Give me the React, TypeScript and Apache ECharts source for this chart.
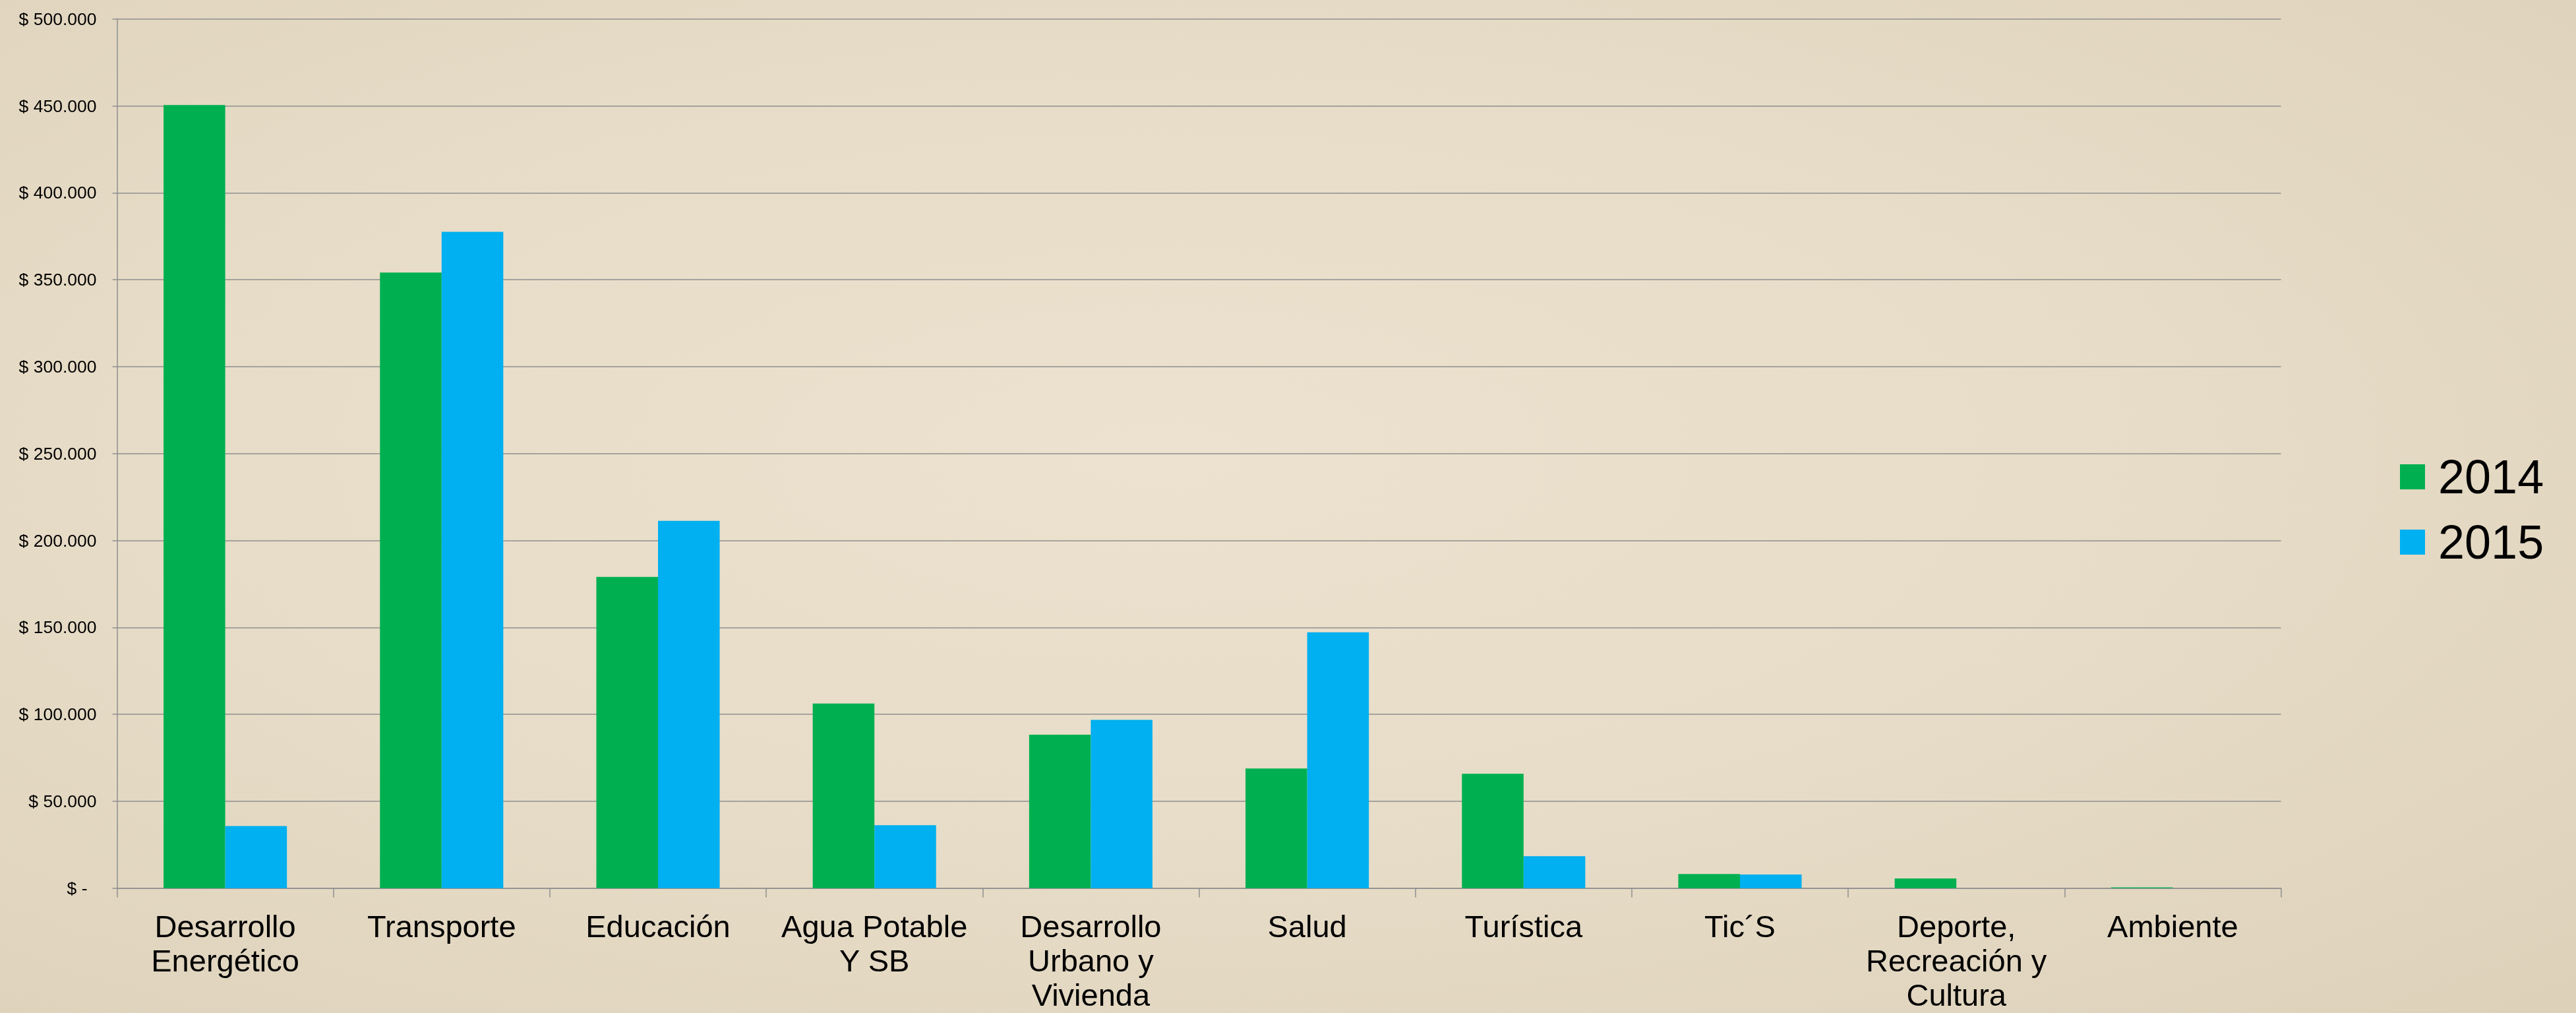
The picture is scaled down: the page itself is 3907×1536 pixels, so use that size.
import React, { useEffect, useRef } from "react";
import * as echarts from "echarts";

const categories = [
  "Desarrollo\nEnergético",
  "Transporte",
  "Educación",
  "Agua Potable\nY SB",
  "Desarrollo\nUrbano y\nVivienda",
  "Salud",
  "Turística",
  "Tic´S",
  "Deporte,\nRecreación y\nCultura",
  "Ambiente",
];

const values2014 = [450500, 354100, 179000, 106200, 88300, 68800, 65800, 8100, 5600, 500];
const values2015 = [35700, 377500, 211300, 36200, 96800, 147200, 18400, 7900, 0, 0];

const seriesNames = ["2014", "2015"];
const yMax = 500000;
const yStep = 50000;

function formatMoney(v: number): string {
  if (v === 0) return "{z|$ -}";
  const s = Math.round(v).toString().replace(/\B(?=(\d{3})+(?!\d))/g, ".");
  return "$ " + s;
}

export default function App() {
  const ref = useRef<HTMLDivElement>(null);

  useEffect(() => {
    if (!ref.current) return;
    const chart = echarts.init(ref.current, undefined, { renderer: "svg" });
    const grayLine = "#8F8F8F";
    const font = "'Liberation Sans', Arial, sans-serif";
    chart.setOption({
      animation: false,
      backgroundColor: "transparent",
      textStyle: { fontFamily: font },
      grid: {
        left: 177.5,
        right: 447.5,
        top: 28.7,
        bottom: 189.3,
        containLabel: false,
        outerBoundsMode: "none",
      },
      legend: {
        orient: "vertical",
        left: 3635,
        top: 682,
        itemWidth: 38,
        itemHeight: 38,
        itemGap: 27,
        icon: "rect",
        data: seriesNames,
        textStyle: { fontSize: 72, color: "#000", fontFamily: font, padding: [0, 0, 0, 15] },
      },
      xAxis: {
        type: "category",
        data: categories,
        axisLine: { show: true, lineStyle: { color: grayLine, width: 1.5 } },
        axisTick: { show: true, length: 14, lineStyle: { color: grayLine, width: 1.5 } },
        axisLabel: {
          interval: 0,
          fontSize: 47,
          lineHeight: 52,
          color: "#000",
          margin: 32,
          fontFamily: font,
        },
        splitLine: { show: false },
      },
      yAxis: {
        type: "value",
        min: 0,
        max: yMax,
        interval: yStep,
        axisLine: { show: true, lineStyle: { color: grayLine, width: 1.5 } },
        axisTick: { show: true, length: 7, lineStyle: { color: grayLine, width: 1.5 } },
        axisLabel: {
          fontSize: 26.5,
          color: "#000",
          margin: 31,
          fontFamily: font,
          formatter: (v: number) => formatMoney(v),
          rich: { z: { fontSize: 26.5, color: "#000", padding: [0, 14, 0, 0], fontFamily: font } },
        },
        splitLine: { show: true, lineStyle: { color: grayLine, width: 1.5 } },
      },
      series: [
        {
          name: seriesNames[0],
          type: "bar",
          data: values2014,
          barGap: "0%",
          barCategoryGap: "43%",
          itemStyle: { color: "#00B050" },
        },
        {
          name: seriesNames[1],
          type: "bar",
          data: values2015,
          barGap: "0%",
          barCategoryGap: "43%",
          itemStyle: { color: "#00B0F0" },
        },
      ],
    });
    return () => chart.dispose();
  }, []);

  return (
    <div
      style={{
        position: "fixed",
        left: 0,
        top: 0,
        width: 3907,
        height: 1536,
        background:
          "radial-gradient(ellipse at 45% 45%, #ECE2CF 0%, #E7DCC7 50%, #DDD1BA 100%)",
      }}
    >
      <div ref={ref} style={{ width: 3907, height: 1536 }} />
    </div>
  );
}
